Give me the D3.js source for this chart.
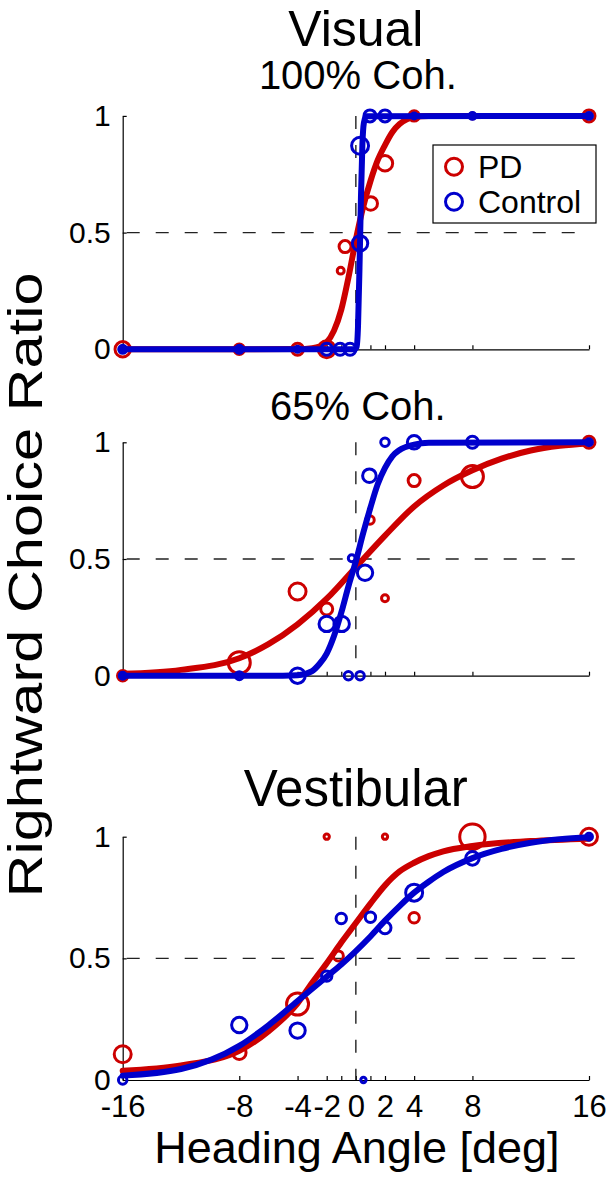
<!DOCTYPE html>
<html><head><meta charset="utf-8">
<script src="https://cdn.jsdelivr.net/npm/d3@7"></script>
<style>
body{margin:0;background:#fff}
svg text{font-family:"Liberation Sans",Arial,Helvetica,sans-serif;fill:#000}
</style>
</head><body>
<svg id="c" width="610" height="1179"></svg>
<script>
// ---------- data ----------
const xTicks = [-16,-8,-4,-2,-1,0,1,2,4,8,16];
const xTickLabels = ["-16","-8","-4","-2","","0","","2","4","8","16"];
const yTicks = [0,0.5,1];
const yTickLabels = ["0","0.5","1"];
const seriesNames = ["PD","Control"];
const panelTitles = ["Visual","","Vestibular"];
const panelSubtitles = ["100% Coh.","65% Coh.",""];
const xLabel = "Heading Angle [deg]";
const yLabel = "Rightward Choice Ratio";

// Panel 1: Visual 100% coherence
const vis100PdX = [-16,-8,-4,-2,-1.04,-0.74,1.02,2.0,4,8,16];
const vis100PdY = [0,0,0,0,0.337,0.44,0.625,0.797,1,1,1];
const vis100PdN = [59,27,36,72,12,36,46,59,27,9,36];
const vis100CtX = [-16,-8,-4,-2,-1.08,-0.4,0.29,0.29,0.97,2,4,8,16];
const vis100CtY = [0,0,0,0,0,0,0.454,0.872,1,1,1,1,1];
const vis100CtN = [16,16,9,36,36,36,59,72,36,36,9,12,12];
const vis100PdFitX = [-16,-4,-3,-2.5,-2,-1.5,-1,-0.5,0,0.5,1,1.5,2,2.5,3,3.5,4,5,16];
const vis100PdFitY = [0,0.001,0.005,0.012,0.03,0.08,0.17,0.31,0.47,0.61,0.72,0.81,0.875,0.93,0.965,0.985,0.995,1,1];
const vis100CtFitX = [-16,-0.1,0.05,0.15,0.25,0.3,0.35,0.45,0.55,0.7,16];
const vis100CtFitY = [0,0,0.01,0.1,0.35,0.5,0.65,0.88,0.97,0.998,1];

// Panel 2: Visual 65% coherence
const vis65PdX = [-16,-8,-4,-2,0.97,2,4,8,16];
const vis65PdY = [0,0.056,0.361,0.286,0.667,0.332,0.836,0.853,1];
const vis65PdN = [27,121,72,36,18,12,36,121,36];
const vis65CtX = [-16,-8,-4,-2,-0.97,-0.51,0.29,-0.28,0.63,0.93,2,4,8,16];
const vis65CtY = [0,0,0,0.222,0.222,0,0,0.503,0.441,0.857,1,1,1,1];
const vis65CtN = [12,16,59,59,59,18,18,12,59,46,18,46,36,12];
const vis65PdFitX = [-16,-12,-8,-6,-4,-2,0,2,4,6,8,10,12,14,16];
const vis65PdFitY = [0.008,0.025,0.075,0.135,0.22,0.33,0.465,0.6,0.725,0.815,0.88,0.93,0.965,0.985,0.995];
const vis65CtFitX = [-16,-5,-4,-3,-2.5,-2,-1.5,-1,-0.5,0,0.5,1,1.5,2,2.5,3,4,5,16];
const vis65CtFitY = [0,0,0.002,0.02,0.05,0.095,0.17,0.27,0.385,0.49,0.61,0.72,0.82,0.89,0.94,0.967,0.99,0.998,1];

// Panel 3: Vestibular
const vestPdX = [-16,-8,-4,-2,-1.2,2,4,8,16];
const vestPdY = [0.106,0.112,0.312,1,0.51,1,0.667,1,1];
const vestPdN = [72,46,121,7,25,7,27,161,72];
const vestCtX = [-16,-8,-4,-2,-1,0.52,1,2,4,8,16];
const vestCtY = [0,0.226,0.203,0.427,0.664,0,0.669,0.626,0.77,0.911,1];
const vestCtN = [18,59,59,27,27,7,27,36,72,46,12];
const vestPdFitX = [-16,-12,-8,-6,-4,-3,-2,-1,0,1,2,3,4,5,6,8,12,16];
const vestPdFitY = [0.038,0.06,0.12,0.2,0.315,0.4,0.48,0.565,0.645,0.725,0.8,0.857,0.893,0.92,0.94,0.962,0.982,0.992];
const vestCtFitX = [-16,-12,-8,-6,-4,-2,-1,0,1,2,3,4,5,6,8,10,12,14,16];
const vestCtFitY = [0.018,0.045,0.14,0.225,0.325,0.425,0.475,0.53,0.59,0.655,0.715,0.77,0.815,0.855,0.912,0.95,0.975,0.99,0.998];

// ---------- build ----------
const zip = (a,b,c) => a.map((v,i)=> c ? [v,b[i],c[i]] : [v,b[i]]);
const panels = [
  {title:panelTitles[0], sub:panelSubtitles[0],
   pd:zip(vis100PdX,vis100PdY,vis100PdN), ct:zip(vis100CtX,vis100CtY,vis100CtN),
   pdFit:zip(vis100PdFitX,vis100PdFitY), ctFit:zip(vis100CtFitX,vis100CtFitY)},
  {title:panelTitles[1], sub:panelSubtitles[1],
   pd:zip(vis65PdX,vis65PdY,vis65PdN), ct:zip(vis65CtX,vis65CtY,vis65CtN),
   pdFit:zip(vis65PdFitX,vis65PdFitY), ctFit:zip(vis65CtFitX,vis65CtFitY)},
  {title:panelTitles[2], sub:panelSubtitles[2],
   pd:zip(vestPdX,vestPdY,vestPdN), ct:zip(vestCtX,vestCtY,vestCtN),
   pdFit:zip(vestPdFitX,vestPdFitY), ctFit:zip(vestCtFitX,vestCtFitY)}
];

const layout = {
  xRange:[122.7,589],
  yRanges:[[349.3,115.9],[675.7,442.3],[1080,836.7]],
  titleY:[46,null,806],
  subY:[89,420,null]
};
const colors = {PD:"#cc0000", Control:"#0000cc"};
const FONT = '"Liberation Sans",Arial,Helvetica,sans-serif';

const svg = d3.select("#c");
const x = d3.scaleLinear().domain([-16,16]).range(layout.xRange);
const rScale = d3.scaleSqrt().domain([0,169]).range([0,13]);
const cx = (layout.xRange[0]+layout.xRange[1])/2;

panels.forEach((p,pi) => {
  const y = d3.scaleLinear().domain([0,1]).range(layout.yRanges[pi]);
  const g = svg.append("g");

  if (p.title) g.append("text").attr("x",cx).attr("y",layout.titleY[pi])
      .attr("text-anchor","middle").attr("font-size",pi===0?50:51).text(p.title);
  if (p.sub) g.append("text").attr("x",cx+2).attr("y",layout.subY[pi])
      .attr("text-anchor","middle").attr("font-size",40).text(p.sub);

  // axes
  const xa = g.append("g").attr("transform",`translate(0,${y(0)})`)
    .call(d3.axisBottom(x).tickValues(xTicks).tickSizeInner(-4).tickSizeOuter(0).tickPadding(15)
      .tickFormat((d,i)=> pi===2 ? xTickLabels[i] : ""));
  const ya = g.append("g").attr("transform",`translate(${x(-16)},0)`)
    .call(d3.axisLeft(y).tickValues(yTicks).tickSizeInner(-4).tickSizeOuter(0).tickPadding(12)
      .tickFormat((d,i)=> yTickLabels[i]));
  [xa,ya].forEach(a=>{
    a.attr("font-family",FONT);
    a.select(".domain").attr("stroke","#000").attr("stroke-width",1.2);
    a.selectAll(".tick line").attr("stroke","#000").attr("stroke-width",1.2);
    a.selectAll("text").attr("fill","#000");
  });
  xa.attr("font-size",31);
  ya.attr("font-size",30);

  // reference dashed lines
  g.append("line").attr("x1",x(-16)+4).attr("x2",x(16)).attr("y1",y(0.5)).attr("y2",y(0.5))
    .attr("stroke","#222").attr("stroke-width",1.4).attr("stroke-dasharray","13,16");
  g.append("line").attr("x1",x(0)).attr("x2",x(0)).attr("y1",y(1)).attr("y2",y(0))
    .attr("stroke","#222").attr("stroke-width",1.4).attr("stroke-dasharray","13,16");

  const line = d3.line().x(d=>x(d[0])).y(d=>y(d[1])).curve(d3.curveMonotoneX);
  const drawPts = (pts,col) => g.append("g").selectAll("circle").data(pts).join("circle")
    .attr("cx",d=>x(d[0])).attr("cy",d=>y(d[1])).attr("r",d=>rScale(d[2]))
    .attr("fill","none").attr("stroke",col).attr("stroke-width",3);
  const drawFit = (pts,col) => g.append("path").datum(pts).attr("d",line)
    .attr("fill","none").attr("stroke",col).attr("stroke-width",6).attr("stroke-linecap","round")
    .attr("stroke-linejoin","round");

  drawPts(p.pd, colors.PD);
  drawFit(p.pdFit, colors.PD);
  drawPts(p.ct, colors.Control);
  drawFit(p.ctFit, colors.Control);

  if (pi===0) {
    const lg = g.append("g");
    lg.append("rect").attr("x",433).attr("y",145).attr("width",163).attr("height",78)
      .attr("fill","#fff").attr("stroke","#000").attr("stroke-width",1.2);
    seriesNames.forEach((s,i)=>{
      const yy = 166.7 + i*35;
      lg.append("circle").attr("cx",454).attr("cy",yy).attr("r",8.5)
        .attr("fill","none").attr("stroke",colors[s]).attr("stroke-width",3);
      lg.append("text").attr("x",478).attr("y",yy+11.5).attr("font-size",32).text(s);
    });
  }
  if (pi===2) {
    g.append("text").attr("x",cx+1).attr("y",1163).attr("text-anchor","middle")
      .attr("font-size",45).text(xLabel);
  }
});

svg.append("text").attr("transform","translate(42,585) rotate(-90)")
  .attr("text-anchor","middle").attr("font-size",48)
  .attr("textLength",625).attr("lengthAdjust","spacingAndGlyphs").text(yLabel);
</script>
</body></html>
